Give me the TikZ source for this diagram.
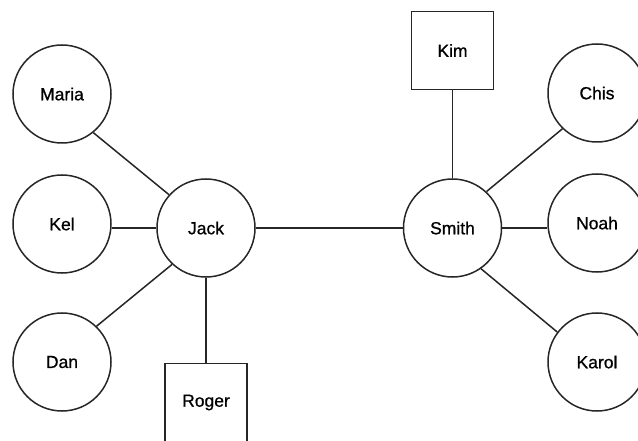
\documentclass[tikz,border=0pt]{standalone}
\usepackage{fontspec}
\setmainfont{Liberation Sans}[FakeBold=0.8]
\begin{document}
\begin{tikzpicture}[x=1pt,y=-1pt,
  person/.style={circle,draw=black!85,line width=1.5pt,minimum size=98pt,inner sep=0pt,font=\fontsize{17.5}{20}\selectfont},
  boxnode/.style={rectangle,draw=black!85,line width=1.5pt,minimum width=82pt,minimum height=78pt,inner sep=0pt,font=\fontsize{17.5}{20}\selectfont},
  link/.style={draw=black!85,line width=1.5pt}]
\useasboundingbox (0,0) rectangle (638,441);
\node[person] (maria) at (62,94) {Maria};
\node[person] (kel) at (62,224) {Kel};
\node[person] (dan) at (62,362) {Dan};
\node[person] (jack) at (206,228) {Jack};
\node[person] (smith) at (452.5,228) {Smith};
\node[person] (chis) at (597,93) {Chis};
\node[person] (noah) at (597,223) {Noah};
\node[person] (karol) at (597,362) {Karol};
\node[boxnode] (kim) at (452.5,50.5) {Kim};
\node[boxnode] (roger) at (206,402.5) {Roger};
\draw[link] (maria.-51) -- (jack.138);
\draw[link] (jack.west) -- (kel.east |- jack.west);
\draw[link] (dan.46) -- (jack.227);
\draw[link] (jack) -- (roger);
\draw[link] (jack) -- (smith);
\draw[link] (smith) -- (kim);
\draw[link] (smith.47) -- (chis.226);
\draw[link] (smith.east) -- (noah.west |- smith.east);
\draw[link] (smith.305) -- (karol.143);
\end{tikzpicture}
\end{document}
